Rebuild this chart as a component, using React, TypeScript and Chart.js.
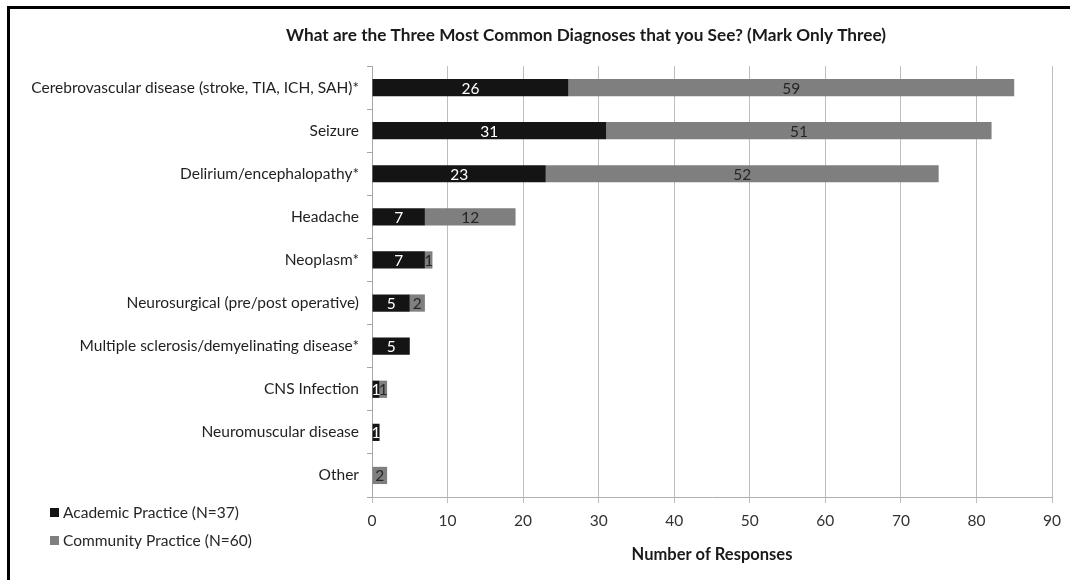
import React, { useEffect, useRef } from "react";
import { Chart, registerables } from "chart.js";

Chart.register(...registerables);

const FONT = "Lato, 'Open Sans', sans-serif";

const TITLE = "What are the Three Most Common Diagnoses that you See? (Mark Only Three)";
const X_TITLE = "Number of Responses";

const categories = [
  "Cerebrovascular disease (stroke, TIA, ICH, SAH)*",
  "Seizure",
  "Delirium/encephalopathy*",
  "Headache",
  "Neoplasm*",
  "Neurosurgical (pre/post operative)",
  "Multiple sclerosis/demyelinating disease*",
  "CNS Infection",
  "Neuromuscular disease",
  "Other",
];

const academicLabel = "Academic Practice (N=37)";
const communityLabel = "Community Practice (N=60)";

const academic = [26, 31, 23, 7, 7, 5, 5, 1, 1, 0];
const community = [59, 51, 52, 12, 1, 2, 0, 1, 0, 2];

const xMin = 0;
const xMax = 90;
const xStep = 10;

const ACADEMIC_COLOR = "#141414";
const COMMUNITY_COLOR = "#7f7f7f";

// Writes each segment's value in the middle of its bar
const valueLabels = {
  id: "valueLabels",
  afterDatasetsDraw(chart: any) {
    const ctx = chart.ctx;
    ctx.save();
    ctx.font = `15.5px ${FONT}`;
    ctx.textAlign = "center";
    ctx.textBaseline = "middle";
    chart.data.datasets.forEach((ds: any, di: number) => {
      const meta = chart.getDatasetMeta(di);
      ctx.fillStyle = di === 0 ? "#ffffff" : "#262626";
      meta.data.forEach((bar: any, i: number) => {
        const v = ds.data[i];
        if (!v) return;
        const cx = (bar.x + bar.base) / 2;
        ctx.fillText(String(v), cx, bar.y + 1);
      });
    });
    ctx.restore();
  },
};

// Frame, title and the stacked legend in the lower-left corner
const decorations = {
  id: "decorations",
  afterDraw(chart: any) {
    const ctx = chart.ctx;
    ctx.save();
    // frame on the top and left edges
    ctx.strokeStyle = "#000";
    ctx.lineWidth = 3;
    ctx.beginPath();
    ctx.moveTo(8.5, chart.height);
    ctx.lineTo(8.5, 7.5);
    ctx.lineTo(chart.width, 7.5);
    ctx.stroke();

    // title
    ctx.fillStyle = "#1a1a1a";
    ctx.font = `bold 17.2px ${FONT}`;
    ctx.textAlign = "center";
    ctx.textBaseline = "middle";
    ctx.fillText(TITLE, 586, 35);

    // legend
    const items = chart.data.datasets.map((d: any) => ({
      label: d.label,
      color: d.backgroundColor,
    }));
    const ys = [513, 541];
    ctx.font = `15.5px ${FONT}`;
    ctx.textAlign = "left";
    items.forEach((it: any, i: number) => {
      ctx.fillStyle = it.color;
      ctx.fillRect(50, ys[i] - 5, 9, 9);
      ctx.fillStyle = "#262626";
      ctx.fillText(it.label, 63, ys[i]);
    });
    ctx.restore();
  },
};

export default function App() {
  const ref = useRef<HTMLCanvasElement>(null);

  useEffect(() => {
    document.body.style.margin = "0";
    const canvas = ref.current;
    if (!canvas) return;
    const chart = new Chart(canvas, {
      type: "bar",
      data: {
        labels: categories,
        datasets: [
          {
            label: academicLabel,
            data: academic,
            backgroundColor: ACADEMIC_COLOR,
            borderWidth: 0,
            barPercentage: 0.4,
            categoryPercentage: 1,
          },
          {
            label: communityLabel,
            data: community,
            backgroundColor: COMMUNITY_COLOR,
            borderWidth: 0,
            barPercentage: 0.4,
            categoryPercentage: 1,
          },
        ],
      },
      options: {
        indexAxis: "y",
        animation: false,
        responsive: false,
        maintainAspectRatio: false,
        layout: { padding: { top: 66, right: 18, left: 0, bottom: 0 } },
        plugins: {
          legend: { display: false },
          title: { display: false },
          tooltip: { enabled: false },
        },
        scales: {
          x: {
            stacked: true,
            min: xMin,
            max: xMax,
            ticks: {
              stepSize: xStep,
              color: "#333",
              font: { family: FONT, size: 15.5 },
              padding: 9,
            },
            grid: {
              color: "#bdbdbd",
              lineWidth: 1,
              tickLength: 6,
              drawOnChartArea: true,
            },
            border: { color: "#b0b0b0", width: 1 },
            title: {
              display: true,
              text: X_TITLE,
              color: "#1a1a1a",
              font: { family: FONT, size: 16.5, weight: "bold" },
              padding: { top: 4, bottom: 15 },
            },
            afterFit(scale: any) {
              scale.height = 83;
            },
          },
          y: {
            stacked: true,
            ticks: {
              color: "#1f1f1f",
              font: { family: FONT, size: 15.5 },
              padding: 8,
              autoSkip: false,
            },
            grid: {
              drawOnChartArea: false,
              color: "#a6a6a6",
              tickLength: 5,
              offset: true,
            },
            border: { color: "#a6a6a6", width: 1 },
            afterFit(scale: any) {
              scale.width = 372;
            },
          },
        },
      },
      plugins: [valueLabels, decorations],
    });
    return () => chart.destroy();
  }, []);

  return <canvas ref={ref} width={1070} height={580} style={{ display: "block" }} />;
}
